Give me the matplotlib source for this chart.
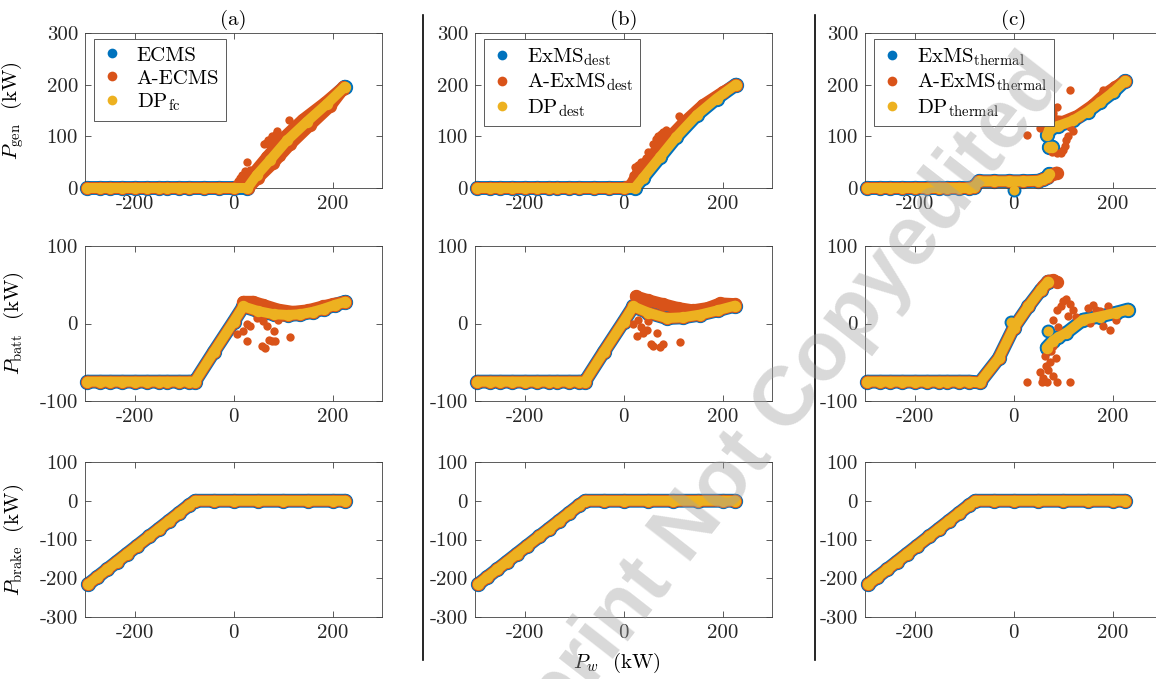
import matplotlib.pyplot as plt
from matplotlib.lines import Line2D

plt.rcParams['font.family'] = 'cmr10'
plt.rcParams['mathtext.fontset'] = 'cm'
plt.rcParams['axes.unicode_minus'] = False
plt.rcParams['font.size'] = 15

BLUE = '#0072BD'
ORANGE = '#D95319'
YELLOW = '#EDB120'

# ---------------- data (kW) ----------------
# shared flat / brake segments
flat_x = [-295, -270, -250, -225, -200, -175, -150, -135, -110, -90]
brake_x = [-293, -275, -255, -235, -215, -195, -170, -150, -130, -110, -90, -77, -40, 0, 50, 100, 150, 200, 226]
brake_y = [-215, -197, -177, -157, -137, -117, -92, -72, -52, -32, -12, 0, 0, 0, 0, 0, 0, 0, 0]

# (a) P_gen
a_gen_x = flat_x + [-60, -30, 0, 28, 47, 74, 108, 148, 189, 225]
a_gen_y = [0] * 10 + [0, 0, 0, 0, 25, 54, 92, 128, 163, 196]
a_gen_aecms_x = flat_x + [-60, -30, 0, 22, 42, 68, 100, 140, 185, 222]
a_gen_aecms_y = [0] * 10 + [0, 0, 0, 6, 30, 60, 96, 132, 165, 195]
a_gen_aecms_lo_x = [30, 50, 80, 115, 155, 195, 222]
a_gen_aecms_lo_y = [0, 20, 48, 85, 122, 158, 192]
a_gen_out_x = [5, 10, 14, 18, 24, 27, 28, 34, 62, 66, 70, 72, 75, 78, 80, 85, 88, 90, 113, 45, 55, 60, 95]
a_gen_out_y = [8, 14, 20, 25, 32, 50, 28, 35, 85, 88, 92, 86, 95, 100, 98, 105, 110, 100, 132, 20, 35, 30, 60]

# (a) P_batt
a_batt_x = flat_x + [-78, -40, 0, 20, 50, 81, 110, 135, 160, 182, 205, 226]
a_batt_y = [-75] * 10 + [-75, -37, 2, 22, 16, 12, 11, 12, 15, 19, 24, 28]
a_batt_aecms_x = [20, 40, 60, 90, 120, 150, 180, 200, 226]
a_batt_aecms_y = [28, 28, 24, 18, 15, 17, 22, 25, 28]
a_batt_out_x = [7, 27, 27, 57, 64, 71, 78, 84, 81, 115, 34, 47, 67, 20, 90, 100, 60]
a_batt_out_y = [-14, -1, -23, -29, -31, -21, -23, -23, -10, -18, -3, 7, -3, -10, 5, 8, 3]

# (b) P_gen
b_gen_x = flat_x + [-60, -30, 0, 23, 40, 74, 107, 148, 188, 227]
b_gen_y = [0] * 10 + [0, 0, 0, 0, 20, 60, 99, 141, 173, 200]
b_gen_aexms_x = flat_x + [-60, -30, 0, 15, 30, 60, 90, 120, 160, 200, 227]
b_gen_aexms_y = [0] * 10 + [0, 0, 0, 5, 30, 65, 95, 125, 160, 185, 200]
b_gen_out_x = [112, 60, 65, 70, 75, 80, 85, 88, 23, 30, 20, 35, 50, 45]
b_gen_out_y = [139, 86, 95, 100, 105, 108, 112, 100, 40, 45, 25, 50, 70, 58]

# (b) P_batt
b_batt_x = flat_x + [-78, -40, 0, 20, 50, 87, 120, 155, 190, 225]
b_batt_y = [-75] * 10 + [-75, -37, 2, 22, 14, 7, 8, 11.5, 17, 23]
b_batt_aexms_x = [25, 50, 80, 110, 140, 170, 195, 225]
b_batt_aexms_y = [35, 30, 25, 20, 17, 20, 26, 25]
b_batt_out_x = [20, 27, 47, 67, 60, 80, 114, 74, 55, 35, 40, 30, 50, 95]
b_batt_out_y = [-1, -16, -8, -12, -29, -27, -24, -30, -27, -5, -12, 5, 3, 8]

# (c) P_gen
c_gen_low_x = flat_x + [-80, -70, -40, -10, 20, 50, 60, 67, 72]
c_gen_low_y = [0] * 10 + [2, 13, 13, 13, 13, 14, 17, 21, 27]
c_gen_aexms_low_x = flat_x + [-80, -70, -40, -10, 20, 50, 60, 70, 80, 87]
c_gen_aexms_low_y = [0] * 10 + [2, 13, 13, 13, 13, 14, 17, 21, 27, 30]
c_gen_dip_x = [0]
c_gen_dip_y = [-4]
c_gen_up_x = [68, 72, 90, 121, 150, 175, 202, 225]
c_gen_up_y = [103, 112, 120, 131, 148, 166, 186, 207]
c_gen_blob_x = [72, 78]
c_gen_blob_y = [79, 80]
c_gen_aexms_up_x = [65, 80, 100, 130, 160, 185, 205, 225]
c_gen_aexms_up_y = [125, 130, 128, 140, 160, 182, 195, 207]
c_gen_out_x = [53, 60, 70, 80, 87, 94, 100, 107, 114, 87, 77, 95, 110, 114, 27, 150, 140, 170, 180, 104, 120]
c_gen_out_y = [117, 130, 137, 145, 157, 120, 73, 92, 118, 67, 69, 68, 100, 189, 102, 155, 150, 175, 190, 82, 110]

# (c) P_batt
c_batt_x = flat_x + [-68, -30, 0, 30, 55, 70]
c_batt_y = [-75] * 10 + [-76, -45, -6, 22, 43, 54]
c_batt_aexms_top_x = [60, 70, 80, 87]
c_batt_aexms_top_y = [48, 55, 56, 54]
c_batt_bump_x = [-6]
c_batt_bump_y = [2]
c_batt_br_x = [67, 80, 90, 107, 141, 174, 208, 231]
c_batt_br_y = [-31, -22, -18, -12, 5, 9, 14, 18]
c_batt_blob_x = [70]
c_batt_blob_y = [-10]
c_batt_out_x = [53, 60, 67, 73, 63, 80, 80, 87, 70, 75, 65, 58, 85, 27, 114,
                80, 87, 100, 107, 114, 121, 127, 95, 110, 90,
                161, 167, 174, 181, 154, 195, 208, 150, 190, 170, 200, 215]
c_batt_out_y = [-63, -70, -76, -50, -42, -29, -68, -76, -60, -35, -55, -75, -45, -76, -76,
                5, 18, 29, 31, 25, 18, 9, 22, 10, -5,
                24, 18, 16, -3, 1, -8, 5, 20, 22, 8, 12, 16]

legend_labels = [
    ['ECMS', 'A-ECMS', r'DP$_{\rm fc}$'],
    [r'ExMS$_{\rm dest}$', r'A-ExMS$_{\rm dest}$', r'DP$_{\rm dest}$'],
    [r'ExMS$_{\rm thermal}$', r'A-ExMS$_{\rm thermal}$', r'DP$_{\rm thermal}$'],
]
titles = ['(a)', '(b)', '(c)']
ylabels = [r'$P_{\rm gen}$  (kW)', r'$P_{\rm batt}$  (kW)', r'$P_{\rm brake}$  (kW)']
ylims = [(0, 300), (-100, 100), (-300, 100)]
yticks = [[0, 100, 200, 300], [-100, 0, 100], [-300, -200, -100, 0, 100]]

# ---------------- drawing ----------------
LW_B, LW_O, LW_Y = 10, 8.6, 7.2


def band(ax, x, y, color, lw, z):
    ax.plot(x, y, '-o', color=color, lw=lw, ms=lw, solid_capstyle='round',
            solid_joinstyle='round', clip_on=False, zorder=z)


def dots(ax, x, y, color, ms, z):
    ax.plot(x, y, 'o', color=color, ms=ms, mec='none', clip_on=False, zorder=z)


fig = plt.figure(figsize=(11.56, 6.79), dpi=100)
FW, FH = 1156, 679
col_left = [85, 475, 865]
row_top = [33, 246, 462]
W, H = 297, 155

axes = [[None] * 3 for _ in range(3)]
for r in range(3):
    for c in range(3):
        ax = fig.add_axes([col_left[c] / FW, 1 - (row_top[r] + H) / FH, W / FW, H / FH])
        ax.set_xlim(-300, 300)
        ax.set_ylim(*ylims[r])
        ax.set_xticks([-200, 0, 200])
        ax.set_yticks(yticks[r])
        ax.tick_params(direction='in', top=True, right=True, length=4, width=0.6,
                       color='#404040', labelsize=15, labelcolor='#262626', pad=5)
        for s in ax.spines.values():
            s.set_color('#404040')
            s.set_linewidth(0.6)
        if c == 0:
            ax.set_ylabel(ylabels[r], fontsize=15)
            ax.yaxis.set_label_coords(-0.2, 0.5)
        if r == 0:
            ax.set_title(titles[c], fontsize=15, pad=6)
        axes[r][c] = ax

# row 1: P_gen
ax = axes[0][0]
band(ax, a_gen_x, a_gen_y, BLUE, LW_B, 2)
band(ax, a_gen_aecms_x, a_gen_aecms_y, ORANGE, LW_O, 3)
band(ax, a_gen_aecms_lo_x, a_gen_aecms_lo_y, ORANGE, LW_O, 3)
dots(ax, a_gen_out_x, a_gen_out_y, ORANGE, 6, 3)
band(ax, a_gen_x, a_gen_y, YELLOW, LW_Y, 4)

ax = axes[0][1]
band(ax, b_gen_x, b_gen_y, BLUE, LW_B, 2)
band(ax, b_gen_aexms_x, b_gen_aexms_y, ORANGE, LW_O, 3)
dots(ax, b_gen_out_x, b_gen_out_y, ORANGE, 6, 3)
band(ax, b_gen_x, b_gen_y, YELLOW, LW_Y, 4)

ax = axes[0][2]
band(ax, c_gen_low_x, c_gen_low_y, BLUE, LW_B, 2)
band(ax, c_gen_up_x, c_gen_up_y, BLUE, LW_B, 2)
band(ax, c_gen_blob_x, c_gen_blob_y, BLUE, LW_B, 2)
dots(ax, c_gen_dip_x, c_gen_dip_y, BLUE, LW_B, 2)
band(ax, c_gen_aexms_low_x, c_gen_aexms_low_y, ORANGE, LW_O, 3)
band(ax, c_gen_aexms_up_x, c_gen_aexms_up_y, ORANGE, LW_O, 3)
dots(ax, c_gen_out_x, c_gen_out_y, ORANGE, 6, 3)
band(ax, c_gen_low_x, c_gen_low_y, YELLOW, LW_Y, 4)
band(ax, c_gen_up_x, c_gen_up_y, YELLOW, LW_Y, 4)
band(ax, c_gen_blob_x, c_gen_blob_y, YELLOW, LW_Y, 4)
dots(ax, c_gen_dip_x, c_gen_dip_y, YELLOW, LW_Y, 4)

# row 2: P_batt
ax = axes[1][0]
band(ax, a_batt_x, a_batt_y, BLUE, LW_B, 2)
band(ax, a_batt_aecms_x, a_batt_aecms_y, ORANGE, LW_O, 3)
band(ax, a_batt_x, a_batt_y, ORANGE, LW_O, 3)
dots(ax, a_batt_out_x, a_batt_out_y, ORANGE, 6, 3)
band(ax, a_batt_x, a_batt_y, YELLOW, LW_Y, 4)

ax = axes[1][1]
band(ax, b_batt_x, b_batt_y, BLUE, LW_B, 2)
band(ax, b_batt_aexms_x, b_batt_aexms_y, ORANGE, LW_O, 3)
band(ax, b_batt_x, b_batt_y, ORANGE, LW_O, 3)
dots(ax, b_batt_out_x, b_batt_out_y, ORANGE, 6, 3)
band(ax, b_batt_x, b_batt_y, YELLOW, LW_Y, 4)

ax = axes[1][2]
band(ax, c_batt_x, c_batt_y, BLUE, LW_B, 2)
band(ax, c_batt_br_x, c_batt_br_y, BLUE, LW_B, 2)
dots(ax, c_batt_blob_x, c_batt_blob_y, BLUE, LW_B, 2)
dots(ax, c_batt_bump_x, c_batt_bump_y, BLUE, LW_B, 2)
band(ax, c_batt_x, c_batt_y, ORANGE, LW_O, 3)
band(ax, c_batt_aexms_top_x, c_batt_aexms_top_y, ORANGE, LW_O, 3)
dots(ax, c_batt_out_x, c_batt_out_y, ORANGE, 6, 3)
band(ax, c_batt_x, c_batt_y, YELLOW, LW_Y, 4)
band(ax, c_batt_br_x, c_batt_br_y, YELLOW, LW_Y, 4)
dots(ax, c_batt_blob_x, c_batt_blob_y, YELLOW, LW_Y, 4)
dots(ax, c_batt_bump_x, c_batt_bump_y, YELLOW, LW_Y, 4)

# row 3: P_brake
for c in range(3):
    ax = axes[2][c]
    band(ax, brake_x, brake_y, BLUE, LW_B, 2)
    band(ax, brake_x, brake_y, ORANGE, LW_O, 3)
    band(ax, brake_x, brake_y, YELLOW, LW_Y, 4)

# legends
for c in range(3):
    handles = [Line2D([], [], ls='', marker='o', ms=7, mec='none', color=col)
               for col in (BLUE, ORANGE, YELLOW)]
    leg = axes[0][c].legend(handles, legend_labels[c], loc='upper left',
                            bbox_to_anchor=(0.03, 0.962), borderaxespad=0,
                            fancybox=False, framealpha=1, edgecolor='#404040',
                            fontsize=15, handlelength=1.0, handletextpad=0.7,
                            borderpad=0.35, labelspacing=0.2)
    leg.get_frame().set_linewidth(0.6)
    leg.set_zorder(10)

# separators and common x label
for xs in (423, 815):
    fig.add_artist(Line2D([xs / FW, xs / FW], [1 - 660 / FH, 1 - 15 / FH],
                          color='black', lw=1.2))
fig.text(617 / FW, 1 - 663 / FH, r'$P_w$  (kW)', ha='center', va='center', fontsize=15)

# watermark
fig.text(754 / FW, 1 - 444 / FH, 'Preprint Not Copyedited', rotation=52,
         fontsize=60, fontweight='bold', family='Liberation Sans',
         color='#a0a0a0', alpha=0.4, ha='center', va='center', zorder=100)

fig.savefig('out.png', dpi=100)
